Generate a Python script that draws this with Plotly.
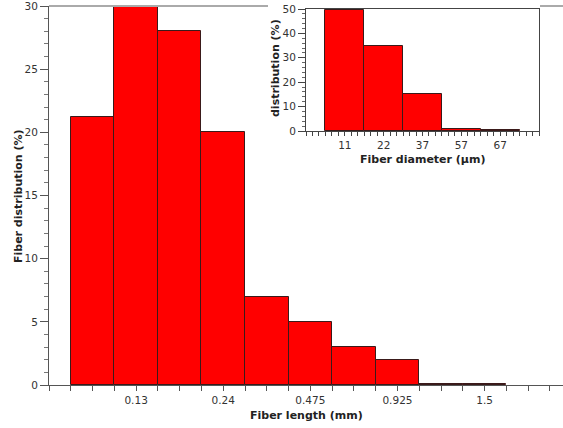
import plotly.graph_objects as go

# Main histogram: fiber length
length_bins = list(range(10))
length_values = [21.2, 30, 28, 20, 7, 5, 3, 2, 0.04, 0.04]
length_tick_pos = [1, 3, 5, 7, 9]
length_tick_labels = ["0.13", "0.24", "0.475", "0.925", "1.5"]

# Inset histogram: fiber diameter
diam_bins = list(range(5))
diam_values = [49.6, 35, 15.2, 1, 0.3]
diam_tick_labels = ["11", "22", "37", "57", "67"]

W, H = 563, 428
ML, MR, MT, MB = 49, 0, 6, 43
pw = W - ML - MR
ph = H - MT - MB

def px_x(p):
    return (p - ML) / pw

def px_y(p):
    return (H - MB - p) / ph

FONT = "DejaVu Sans"
bar_style = dict(color="#ff0000", line=dict(color="#3a1a1a", width=1))

fig = go.Figure()
fig.add_trace(go.Bar(x=length_bins, y=length_values, width=1.0, marker=bar_style,
                     xaxis="x", yaxis="y", showlegend=False))
fig.add_trace(go.Bar(x=diam_bins, y=diam_values, width=1.0, marker=bar_style,
                     xaxis="x2", yaxis="y2", showlegend=False))

tickfont = dict(family=FONT, size=10.5, color="#333")
titlefont = dict(family=FONT, size=11, color="#222")

def title_ann(text, xp, yp, angle=0):
    return dict(text="<b>" + text + "</b>", font=titlefont, showarrow=False,
                xref="paper", yref="paper", x=px_x(xp), y=px_y(yp), textangle=angle,
                xanchor="center", yanchor="middle")

fig.update_layout(
    width=W, height=H,
    margin=dict(l=ML, r=MR, t=MT, b=MB),
    paper_bgcolor="white", plot_bgcolor="white",
    bargap=0,
    xaxis=dict(domain=[0, 1], range=[-1, 10.8], showgrid=False, zeroline=False,
               showline=True, linecolor="#555", linewidth=1,
               tickmode="array", tickvals=length_tick_pos, ticktext=length_tick_labels,
               ticks="outside", ticklen=5, tickcolor="#555", tickfont=tickfont,
               minor=dict(ticks="outside", ticklen=5, tick0=-1, dtick=0.5, tickcolor="#555")),
    yaxis=dict(domain=[0, 1], range=[0, 30], showgrid=False, zeroline=False,
               showline=True, linecolor="#555", linewidth=1, ticklabeloverflow="allow",
               dtick=5, ticks="outside", ticklen=8, tickcolor="#555", tickfont=tickfont,
               minor=dict(ticks="outside", ticklen=4, dtick=1, tickcolor="#777")),
    xaxis2=dict(domain=[px_x(306), px_x(539)], anchor="y2", range=[-1, 5],
                showgrid=False, zeroline=False, showline=True, linecolor="#444", mirror=True,
                tickmode="array", tickvals=diam_bins, ticktext=diam_tick_labels,
                ticks="outside", ticklen=4, tickcolor="#444", tickfont=tickfont,
                minor=dict(ticks="outside", ticklen=4, tick0=-1, dtick=1/6, tickcolor="#444")),
    yaxis2=dict(domain=[px_y(131), px_y(9)], anchor="x2", range=[0, 50],
                showgrid=False, zeroline=False, showline=True, linecolor="#444", mirror=True,
                ticklabeloverflow="allow",
                dtick=10, ticks="outside", ticklen=7, tickcolor="#444", tickfont=tickfont,
                minor=dict(ticks="outside", ticklen=3, dtick=2, tickcolor="#666")),
    annotations=[
        title_ann("Fiber length (mm)", 306, 415),
        title_ann("Fiber distribution (%)", 18, 196, -90),
        title_ann("Fiber diameter (\u00b5m)", 422.5, 159),
        title_ann("distribution (%)", 275, 68, -90),
    ],
    shapes=[
        dict(type="line", xref="paper", yref="paper", x0=0, x1=px_x(268), y0=1, y1=1,
             line=dict(color="#aaa", width=2)),
        dict(type="line", xref="paper", yref="paper", x0=px_x(540), x1=1, y0=1, y1=1,
             line=dict(color="#aaa", width=2)),
    ],
)

fig.write_html("out.html")
